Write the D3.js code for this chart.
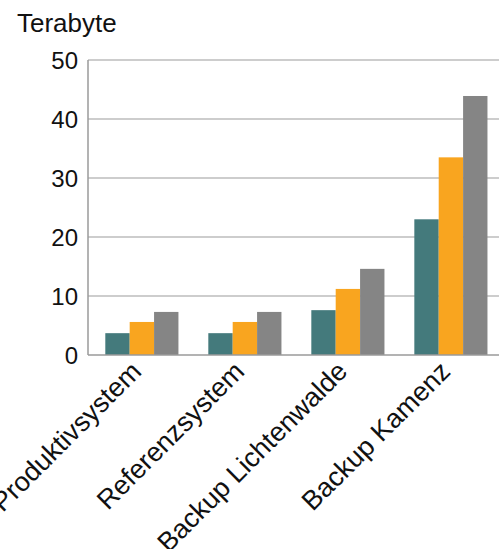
<!DOCTYPE html>
<html>
<head>
<meta charset="utf-8">
<script src="https://cdn.jsdelivr.net/npm/d3@7"></script>
<style>
  body { margin: 0; background: #fff; }
  svg { display: block; font-family: "Liberation Sans", Arial, sans-serif; }
</style>
</head>
<body>
<svg id="chart" width="499" height="549"></svg>
<script>
// data
const categories = ['Produktivsystem', 'Referenzsystem', 'Backup Lichtenwalde', 'Backup Kamenz'];
const seriesA = [3.7, 3.7, 7.6, 23.0];
const seriesB = [5.6, 5.6, 11.2, 33.5];
const seriesC = [7.3, 7.3, 14.6, 43.9];
const yTicks = [0, 10, 20, 30, 40, 50];
const colors = ['#447a7c', '#f9a51f', '#858585'];

const svg = d3.select('#chart');
const plotLeft = 88, plotRight = 499, plotTop = 60, plotBottom = 355;

const x = d3.scaleBand()
  .domain(categories)
  .range([plotLeft, plotRight])
  .paddingInner(0.29)
  .paddingOuter(0.14)
  .align(0.6);

const xs = d3.scaleBand()
  .domain([0, 1, 2])
  .range([0, x.bandwidth()]);

const y = d3.scaleLinear().domain([0, 50]).range([plotBottom, plotTop]);

// gridlines
svg.append('g')
  .selectAll('line')
  .data(yTicks.filter(d => d > 0))
  .enter()
  .append('line')
  .attr('x1', plotLeft)
  .attr('x2', plotRight)
  .attr('y1', d => y(d))
  .attr('y2', d => y(d))
  .attr('stroke', '#bcbcbc')
  .attr('stroke-width', 1.5);

// bars
const rows = categories.map((c, i) => ({ cat: c, vals: [seriesA[i], seriesB[i], seriesC[i]] }));
const group = svg.selectAll('g.cat')
  .data(rows)
  .enter()
  .append('g')
  .attr('class', 'cat')
  .attr('transform', d => `translate(${x(d.cat)},0)`);

group.selectAll('rect')
  .data(d => d.vals)
  .enter()
  .append('rect')
  .attr('x', (d, i) => xs(i))
  .attr('width', xs.bandwidth())
  .attr('y', d => y(d))
  .attr('height', d => y(0) - y(d))
  .attr('fill', (d, i) => colors[i]);

// axis lines
svg.append('line')
  .attr('x1', plotLeft).attr('x2', plotLeft)
  .attr('y1', plotTop).attr('y2', plotBottom)
  .attr('stroke', '#9a9a9a').attr('stroke-width', 1.5);
svg.append('line')
  .attr('x1', plotLeft).attr('x2', plotRight)
  .attr('y1', plotBottom).attr('y2', plotBottom)
  .attr('stroke', '#9a9a9a').attr('stroke-width', 1.5);

// y tick labels
svg.append('g')
  .selectAll('text')
  .data(yTicks)
  .enter()
  .append('text')
  .attr('x', plotLeft - 10)
  .attr('y', d => y(d))
  .attr('dy', '0.36em')
  .attr('text-anchor', 'end')
  .attr('font-size', 24)
  .attr('fill', '#111')
  .text(d => d);

// unit label
svg.append('text')
  .attr('x', 17)
  .attr('y', 32)
  .attr('font-size', 26)
  .attr('fill', '#111')
  .text('Terabyte');

// category labels
svg.append('g')
  .selectAll('text')
  .data(categories)
  .enter()
  .append('text')
  .attr('transform', d => `translate(${x(d) + x.bandwidth() / 2 + 1},${plotBottom + 18}) rotate(-45)`)
  .attr('text-anchor', 'end')
  .attr('font-size', 27)
  .attr('fill', '#111')
  .text(d => d);
</script>
</body>
</html>
